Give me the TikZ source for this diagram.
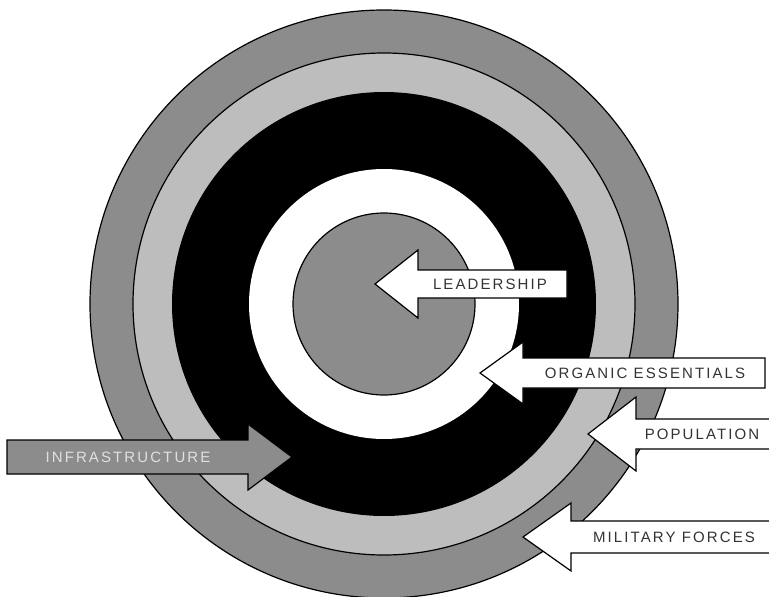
\documentclass[tikz,border=0pt]{standalone}
\usepackage{fontspec}
\usepackage{tikz}
\usetikzlibrary{calc}
\newfontfamily\tagfont[LetterSpace=14]{Liberation Sans}
\definecolor{ringgray}{gray}{0.55}
\definecolor{ringlight}{gray}{0.74}
\definecolor{tagtext}{gray}{0.2}
\tikzset{
    ring/.style={draw=black, line width=1.2pt},
    blockarrow/.style={draw=black, fill=white, line width=1.2pt, line join=miter},
    tag/.style={font=\tagfont\fontsize{15}{15}\selectfont, text=tagtext, inner sep=0pt}
}

\begin{document}
\begin{tikzpicture}[x=1pt, y=-1pt]
    \clip (0,0) rectangle (769,597);
    \fill[white] (0,0) rectangle (769,597);
    \coordinate (c) at (384,304);
    % rings, outside in
    \filldraw[ring, fill=ringgray] (c) circle[radius=294pt];
    \filldraw[ring, fill=ringlight] (c) circle[radius=251pt];
    \fill[black] (c) circle[radius=212pt];
    \fill[white] (c) circle[radius=135pt];
    \filldraw[ring, fill=ringgray] (c) circle[radius=91pt];
    % arrows from the right: tip x / mid y / head x / end x / shaft / head / name / text x / text
    \foreach \tx/\cy/\hx/\ex/\sh/\hh/\nm/\lx/\txt in {
        375/284/418/567/14/34/lead/490/LEADERSHIP,
        480/373/523/765/15/31/organic/645/ORGANIC ESSENTIALS,
        588/434/636/775/15/37/pop/702/POPULATION,
        523/537/571/775/16/34/mil/674/MILITARY FORCES}{
        \draw[blockarrow] (\tx,\cy) -- (\hx,\cy-\hh) -- (\hx,\cy-\sh) -- (\ex,\cy-\sh)
            -- (\ex,\cy+\sh) -- (\hx,\cy+\sh) -- (\hx,\cy+\hh) -- cycle;
        \node[tag] (\nm) at (\lx,\cy) {\txt};
    }
    \draw[blockarrow, fill=ringgray] (292,457) -- (248,424) -- (248,440) -- (7,440)
        -- (7,474) -- (248,474) -- (248,490) -- cycle;
    \node[tag, text=white!88!black] (infra) at (128,457) {INFRASTRUCTURE};
\end{tikzpicture}
\end{document}
